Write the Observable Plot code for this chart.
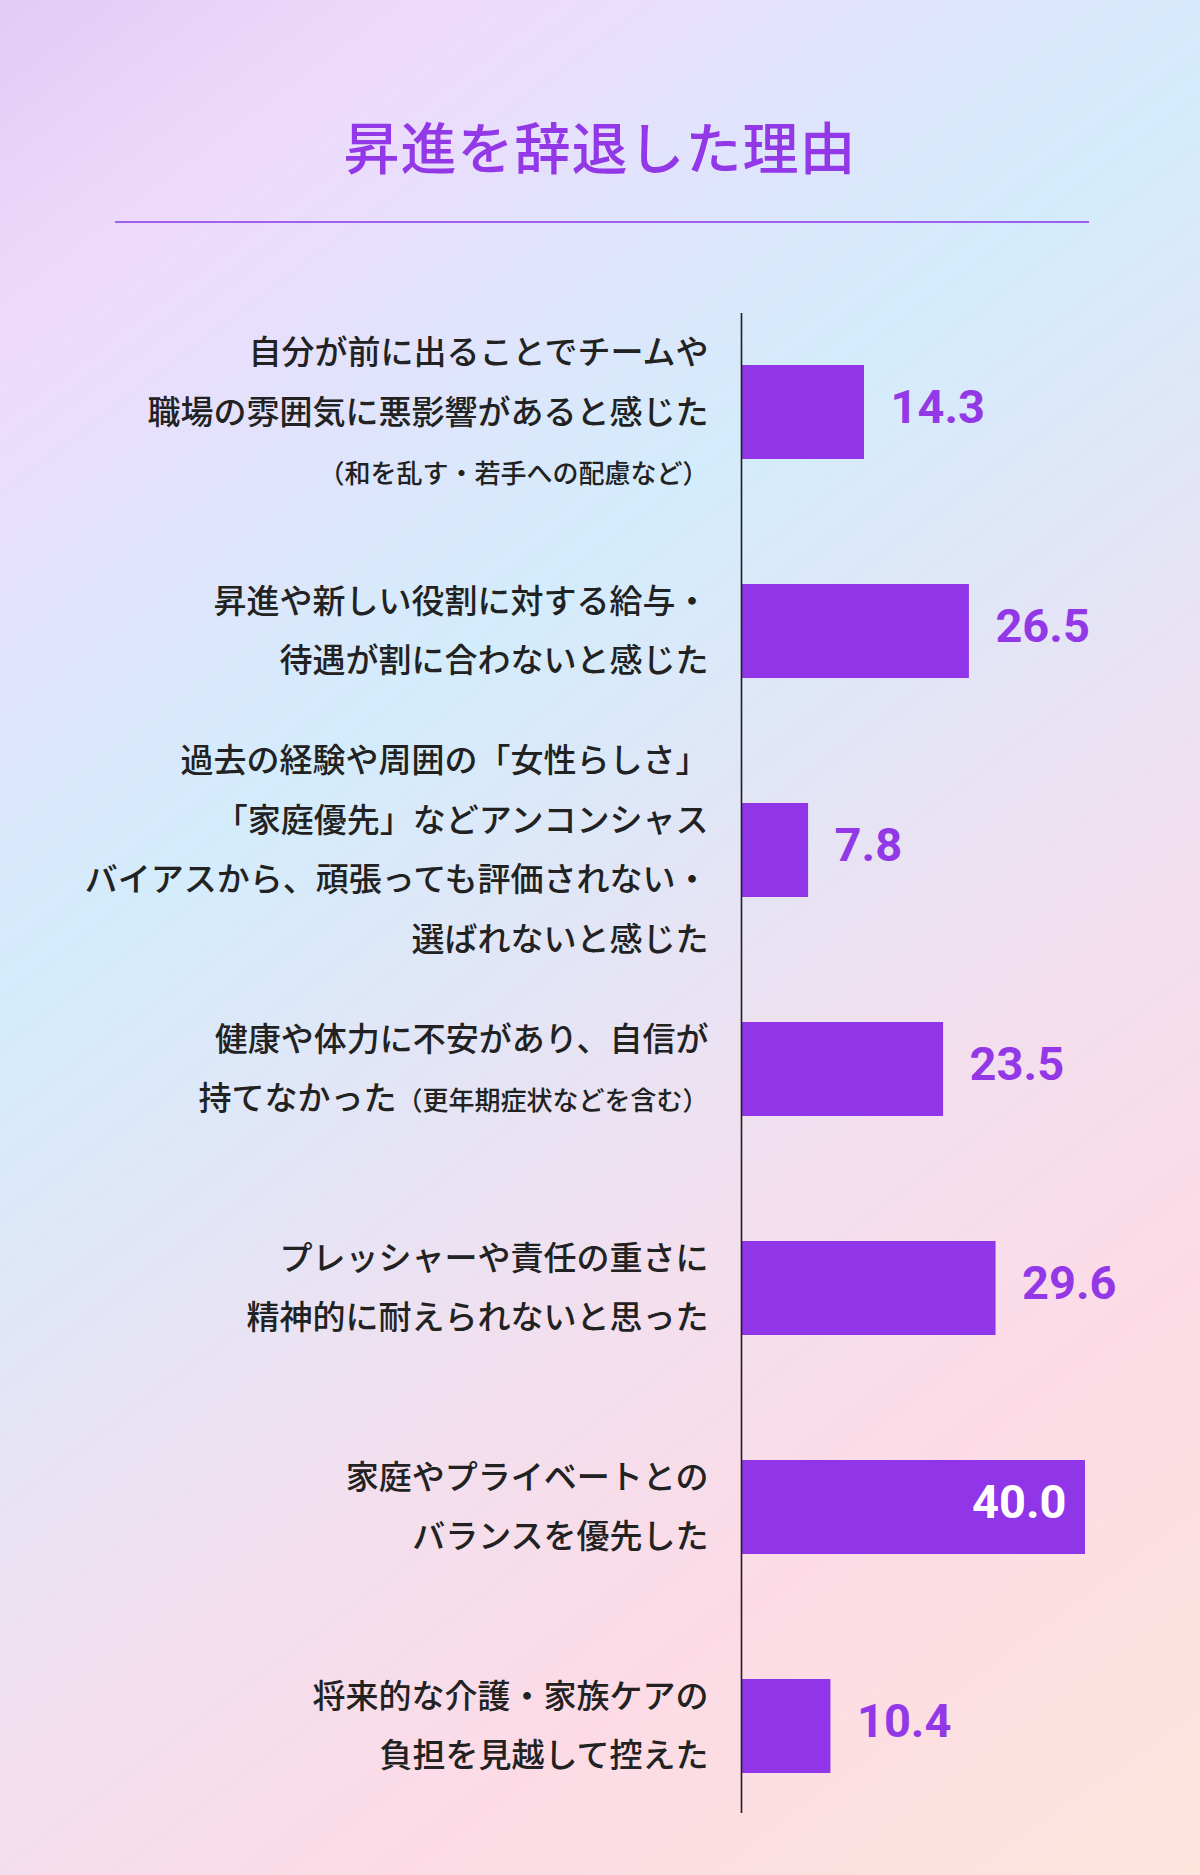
<!DOCTYPE html>
<html lang="ja">
<head>
<meta charset="utf-8">
<script src="https://cdn.jsdelivr.net/npm/d3@7"></script>
<script src="https://cdn.jsdelivr.net/npm/@observablehq/plot@0.6"></script>
<style>
  html, body { margin: 0; padding: 0; }
  body {
    width: 1200px; height: 1875px; overflow: hidden;
    background: linear-gradient(143deg, #e2cbf5 0%, #efdafb 12%, #d3ecfc 36%, #e3e5f6 50%, #f3dfee 64%, #fcdbe6 78%, #fde5dc 100%);
    font-family: "Noto Sans CJK JP", "Noto Sans", sans-serif;
  }
  #wrap { position: relative; width: 1200px; height: 1875px; }
  #header { position: relative; width: 1200px; height: 240px; }
  #title {
    position: absolute; left: 0; top: 115px; width: 1200px; text-align: center;
    font-size: 56px; line-height: 60px; font-weight: 500; color: #9338e6;
    letter-spacing: 1px; margin: 0;
  }
  #rule { position: absolute; left: 115px; top: 221px; width: 974px; height: 2px; background: #a060ee; }
  #chart svg { display: block; }
</style>
</head>
<body>
<div id="wrap">
  <div id="header">
    <h1 id="title">昇進を辞退した理由</h1>
    <div id="rule"></div>
  </div>
  <div id="chart"></div>
</div>
<script>
const titleText = "昇進を辞退した理由";
const reasons = [
  "自分が前に出ることでチームや\n職場の雰囲気に悪影響があると感じた\n（和を乱す・若手への配慮など）",
  "昇進や新しい役割に対する給与・\n待遇が割に合わないと感じた",
  "過去の経験や周囲の「女性らしさ」\n「家庭優先」などアンコンシャス\nバイアスから、頑張っても評価されない・\n選ばれないと感じた",
  "健康や体力に不安があり、自信が\n持てなかった（更年期症状などを含む）",
  "プレッシャーや責任の重さに\n精神的に耐えられないと思った",
  "家庭やプライベートとの\nバランスを優先した",
  "将来的な介護・家族ケアの\n負担を見越して控えた"
];
const values = [14.3, 26.5, 7.8, 23.5, 29.6, 40.0, 10.4];

const data = reasons.map((r, i) => ({ id: i, label: r, value: values[i] }));
const maxValue = d3.max(values);

const barColor = "#9135e8";
const purpleText = "#9338e6";

const chart = Plot.plot({
  width: 1200,
  height: 1635,
  marginTop: 73,
  marginBottom: 62,
  marginLeft: 741,
  marginRight: 115,
  style: { background: "transparent", fontFamily: "'Noto Sans CJK JP', sans-serif", overflow: "visible" },
  x: { domain: [0, 40], axis: null },
  y: { domain: data.map(d => d.id), axis: null, paddingInner: 0.573, paddingOuter: 0.196, align: 0.56 },
  marks: [
    Plot.barX(data, { x: "value", y: "id", fill: barColor }),
    Plot.ruleX([0], { stroke: "#1e1e1e", strokeWidth: 1.6 }),
    Plot.text(data, {
      x: 0, y: "id", text: "label", textAnchor: "end", dx: -33, dy: -8,
      fontSize: 33, fontWeight: 500, fill: "#222", lineHeight: 1.8,
      fontFamily: "'Noto Sans CJK JP', sans-serif"
    }),
    Plot.text(data.filter(d => d.value !== maxValue), {
      x: "value", y: "id", text: d => d.value.toFixed(1), textAnchor: "start", dx: 26, dy: -5,
      fontSize: 47, fontWeight: 700, fill: purpleText, fontFamily: "Roboto, sans-serif"
    }),
    Plot.text(data.filter(d => d.value === maxValue), {
      x: "value", y: "id", text: d => d.value.toFixed(1), textAnchor: "end", dx: -19, dy: -5,
      fontSize: 47, fontWeight: 700, fill: "#ffffff", fontFamily: "Roboto, sans-serif"
    })
  ]
});

// Make parenthetical notes smaller (as in the reference)
const SVGNS = "http://www.w3.org/2000/svg";
function shrinkNote(el) {
  const t = el.textContent;
  const idx = t.indexOf("（");
  if (idx < 0) return;
  const prefix = t.slice(0, idx);
  const note = t.slice(idx);
  el.textContent = prefix;
  const sub = document.createElementNS(SVGNS, "tspan");
  sub.setAttribute("font-size", "26");
  sub.textContent = note;
  el.appendChild(sub);
}
chart.querySelectorAll("text").forEach(txt => {
  const spans = txt.querySelectorAll("tspan");
  if (spans.length) spans.forEach(shrinkNote);
  else shrinkNote(txt);
});

document.getElementById("chart").appendChild(chart);
</script>
</body>
</html>
